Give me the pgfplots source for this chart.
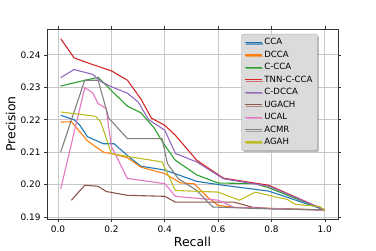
\documentclass[border=0pt]{standalone}
\usepackage{pgfplots}
\pgfplotsset{compat=1.18}
\usepackage{fontspec}
\setmainfont{DejaVu Sans}
\usetikzlibrary{shadows}
\definecolor{c1}{HTML}{1F77B4}
\definecolor{c2}{HTML}{FF7F0E}
\definecolor{c3}{HTML}{2CA02C}
\definecolor{c4}{HTML}{D62728}
\definecolor{c5}{HTML}{9467BD}
\definecolor{c6}{HTML}{8C564B}
\definecolor{c7}{HTML}{E377C2}
\definecolor{c8}{HTML}{7F7F7F}
\definecolor{c9}{HTML}{BCBD22}
\begin{document}
\begin{tikzpicture}
\begin{axis}[
  scale only axis,
  width=291bp, height=190bp,
  xmin=-0.0415, xmax=1.0495,
  ymin=0.1894, ymax=0.248,
  xtick={0,0.2,0.4,0.6,0.8,1.0},
  xticklabels={0.0,0.2,0.4,0.6,0.8,1.0},
  ytick={0.19,0.20,0.21,0.22,0.23,0.24},
  yticklabels={0.19,0.20,0.21,0.22,0.23,0.24},
  grid=major,
  major grid style={draw=black!22, line width=1.1pt},
  axis line style={draw=black!80, line width=0.8pt},
  tick style={draw=black!80, line width=0.6pt},
  tick align=outside,
  major tick length=3bp,
  ticklabel style={font=\fontsize{9}{10}\selectfont},
  xlabel={Recall}, ylabel={Precision},
  label style={font=\fontsize{12.5}{14}\selectfont},
  xlabel style={yshift=2bp},
  ylabel style={yshift=-2bp},
  every axis plot/.append style={line width=1.1pt, mark=none},
  legend style={at={(rel axis cs:0.667,0.974)}, anchor=north west,
    font=\fontsize{8.6}{10}\selectfont, fill=black!14, draw=black!30,
    rounded corners=1.5pt, row sep=0.6pt, inner xsep=3pt, inner ysep=2.5pt,
    drop shadow={shadow xshift=1.5bp, shadow yshift=-1.5bp, fill=black!45, opacity=0.6}},
  legend cell align=left,
]
\addplot[c1] coordinates {(0.01,0.2214)(0.06,0.2200)(0.08,0.2185)(0.11,0.2148)(0.17,0.2126)(0.21,0.2126)(0.26,0.2090)(0.31,0.2057)(0.40,0.2045)(0.52,0.2010)(0.62,0.1998)(0.79,0.1980)(1.0,0.1922)};
\addlegendentry{CCA}
\addplot[c2] coordinates {(0.01,0.2193)(0.05,0.2194)(0.11,0.2135)(0.17,0.2100)(0.21,0.2094)(0.26,0.2083)(0.31,0.2054)(0.40,0.2034)(0.46,0.2005)(0.51,0.2003)(0.56,0.1962)(0.60,0.1936)(0.66,0.1930)(1.0,0.1922)};
\addlegendentry{DCCA}
\addplot[c3] coordinates {(0.01,0.2304)(0.06,0.2314)(0.15,0.2331)(0.20,0.2290)(0.26,0.2242)(0.31,0.2222)(0.36,0.2175)(0.40,0.2121)(0.44,0.2075)(0.52,0.2030)(0.60,0.2005)(0.74,0.2003)(0.79,0.1990)(1.0,0.1922)};
\addlegendentry{C-CCA}
\addplot[c4] coordinates {(0.01,0.2450)(0.06,0.2391)(0.12,0.2373)(0.20,0.2351)(0.26,0.2322)(0.31,0.2265)(0.35,0.2205)(0.40,0.2183)(0.44,0.2152)(0.52,0.2075)(0.62,0.2020)(0.79,0.1998)(1.0,0.1922)};
\addlegendentry{TNN-C-CCA}
\addplot[c5] coordinates {(0.01,0.2330)(0.06,0.2355)(0.13,0.2340)(0.16,0.2318)(0.20,0.2302)(0.26,0.2282)(0.30,0.2255)(0.34,0.2200)(0.40,0.2168)(0.44,0.2096)(0.52,0.2070)(0.62,0.2018)(0.79,0.1995)(1.0,0.1922)};
\addlegendentry{C-DCCA}
\addplot[c6] coordinates {(0.05,0.1952)(0.10,0.1998)(0.15,0.1995)(0.18,0.1979)(0.26,0.1967)(0.40,0.1964)(0.44,0.1946)(0.66,0.1946)(0.73,0.1930)(0.80,0.1926)(1.0,0.1922)};
\addlegendentry{UGACH}
\addplot[c7] coordinates {(0.01,0.1987)(0.10,0.2299)(0.13,0.2283)(0.15,0.2250)(0.18,0.2235)(0.20,0.2118)(0.26,0.2019)(0.40,0.2003)(0.44,0.1964)(0.60,0.1952)(0.66,0.1930)(1.0,0.1921)};
\addlegendentry{UCAL}
\addplot[c8] coordinates {(0.01,0.2101)(0.05,0.2200)(0.10,0.2322)(0.15,0.2322)(0.19,0.2205)(0.26,0.2142)(0.39,0.2142)(0.41,0.2065)(0.45,0.2019)(0.52,0.1982)(0.58,0.1931)(0.80,0.1925)(1.0,0.1922)};
\addlegendentry{ACMR}
\addplot[c9] coordinates {(0.01,0.2224)(0.14,0.2211)(0.16,0.2193)(0.20,0.2096)(0.26,0.2087)(0.39,0.2070)(0.44,0.1982)(0.60,0.1977)(0.68,0.1952)(0.74,0.1977)(0.79,0.1967)(0.86,0.1954)(0.89,0.1939)(0.98,0.1933)(1.0,0.1921)};
\addlegendentry{AGAH}
\end{axis}
\path ([xshift=-47bp,yshift=-32bp]current axis.south west) rectangle ([xshift=38bp,yshift=29bp]current axis.north east);
\end{tikzpicture}
\end{document}
